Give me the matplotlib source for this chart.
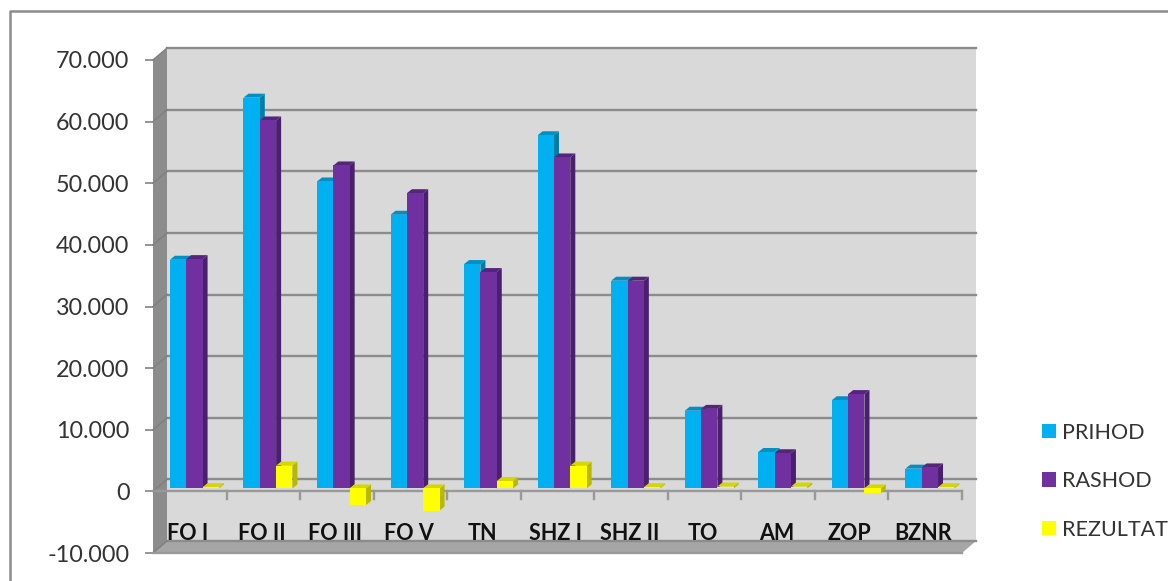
import matplotlib
matplotlib.use("Agg")
from matplotlib import pyplot as plt
from matplotlib.lines import Line2D
from matplotlib.patches import Patch, Polygon

W, H = 1168, 581

categories = ['FO I', 'FO II', 'FO III', 'FO V', 'TN', 'SHZ I', 'SHZ II', 'TO', 'AM', 'ZOP', 'BZNR']
prihod = [37100, 63400, 49800, 44400, 36400, 57300, 33700, 12600, 5900, 14300, 3200]
rashod = [37200, 59700, 52400, 47900, 35100, 53700, 33700, 12900, 5700, 15300, 3400]
rezultat = [200, 3700, -2700, -3600, 1200, 3700, 200, 300, 300, -800, 200]
y_ticks = [-10000, 0, 10000, 20000, 30000, 40000, 50000, 60000, 70000]
y_labels = ['-10.000', '0', '10.000', '20.000', '30.000', '40.000', '50.000', '60.000', '70.000']

series = [('PRIHOD', prihod, '#00b0f0', '#007ea8', '#0090c4'),
          ('RASHOD', rashod, '#7030a0', '#4a1f6c', '#55247c'),
          ('REZULTAT', rezultat, '#ffff00', '#b8b800', '#d6d600')]

fig = plt.figure(figsize=(W / 100, H / 100), dpi=100)
plt.rcParams['font.family'] = ['Lato', 'DejaVu Sans']

# axes sit on the front plane of the fake 3D box
left, right, top, bottom = 153, 962, 60, 553
ax = fig.add_axes([left / W, 1 - bottom / H, (right - left) / W, (bottom - top) / H])
ax.set_xlim(0, len(categories))
ax.set_ylim(-10000, 70000)
ax.patch.set_visible(False)

PX = len(categories) / (right - left)
PY = 80000 / (bottom - top)
DX, DY = 14 * PX, 12 * PY      # box depth
X0, XN = 0, len(categories)
Y0, YN = -10000, 70000
GRID = '#8c8c8c'


def poly(points, color, z):
    ax.add_patch(Polygon(points, closed=True, facecolor=color, edgecolor='none', clip_on=False, zorder=z))


# walls
poly([(X0 + DX, Y0 + DY), (XN + DX, Y0 + DY), (XN + DX, YN + DY), (X0 + DX, YN + DY)], '#d9d9d9', 1)
poly([(X0, Y0), (X0 + DX, Y0 + DY), (X0 + DX, YN + DY), (X0, YN)], '#8c8c8c', 1)
poly([(X0, Y0), (XN, Y0), (XN + DX, Y0 + DY), (X0 + DX, Y0 + DY)], '#a6a6a6', 1)

# gridlines, back wall and the diagonal on the side wall
for v in y_ticks:
    ax.plot([X0 + DX, XN + DX], [v + DY, v + DY], color=GRID, lw=1.7, clip_on=False, zorder=2)
    ax.plot([X0, X0 + DX], [v, v + DY], color='#7f7f7f', lw=1, clip_on=False, zorder=2)

# zero line and bottom edge of the box
ax.plot([X0, XN], [0, 0], color='#999999', lw=1.7, clip_on=False, zorder=3)
ax.plot([X0, XN], [Y0, Y0], color='#999999', lw=1.7, clip_on=False, zorder=3)
for k in range(1, len(categories) + 1):
    ax.plot([k, k], [0, -7.5 * PY], color='#999999', lw=1.7, clip_on=False, zorder=3)

# bars
bar_w = 0.222
start = 0.23
base = 3 * PY        # bars stand a little behind the front plane
ox, oy = 5 * PX, 4 * PY
z = 4
for k in range(len(categories)):
    for j, (name, vals, front, side, roof) in enumerate(series):
        a = k + start + j * bar_w
        b = a + bar_w
        v = vals[k]
        hi = max(v, 0) + base
        lo = min(v, 0) + base
        poly([(b, lo), (b + ox, lo + oy), (b + ox, hi + oy), (b, hi)], side, z)
        poly([(a, hi), (b, hi), (b + ox, hi + oy), (a + ox, hi + oy)], roof, z)
        poly([(a, lo), (b, lo), (b, hi), (a, hi)], front, z)
        z += 1

# value axis
ax.set_xticks([])
ax.set_yticks(y_ticks)
ax.set_yticklabels(y_labels, fontsize=16.8, color='#333333')
ax.tick_params(axis='y', length=6, width=1.3, color='#8c8c8c', pad=11)
for s in ax.spines.values():
    s.set_visible(False)

for k, name in enumerate(categories):
    ax.text(k + 0.475, -6900, name, ha='center', va='center', fontsize=15.5, fontweight='bold',
            color='#111111', zorder=50)

handles = [Patch(facecolor=c[2], edgecolor='none', label=c[0]) for c in series]
fig.legend(handles=handles, loc='upper left', bbox_to_anchor=(1033 / W, 1 - 414 / H), frameon=False,
           fontsize=15.5, handlelength=0.65, handleheight=0.65, handletextpad=0.3,
           labelspacing=1.33, borderpad=0.4, borderaxespad=0, labelcolor='#333333')

# chart frame
fig.add_artist(Line2D([10 / W, 10 / W, 1], [0, 1 - 11 / H, 1 - 11 / H], color='#8c8c8c', lw=1.8))

fig.savefig('out.png', dpi=100)
